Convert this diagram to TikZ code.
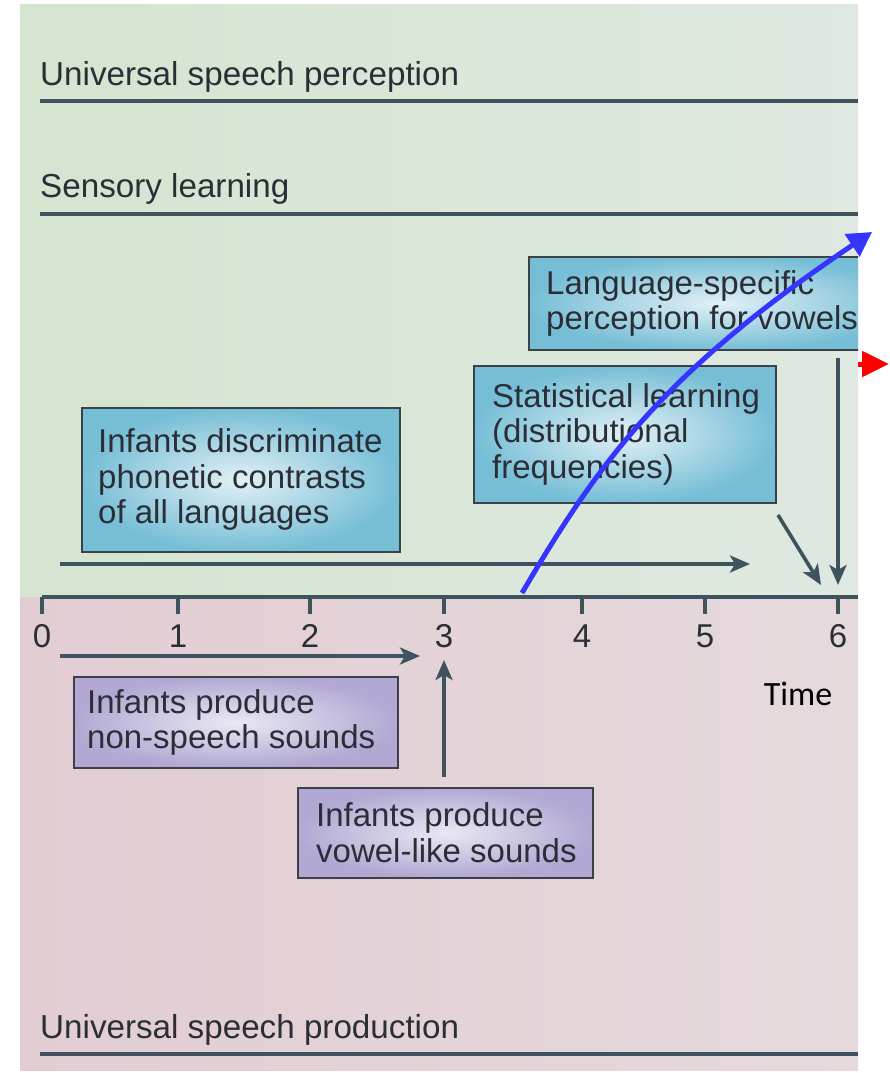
\documentclass[tikz,border=0pt]{standalone}
\usepackage{fontspec}
\setmainfont{Liberation Sans}
\newfontfamily\timefont{Carlito}
\usetikzlibrary{arrows.meta}
\definecolor{lineC}{HTML}{3F535E}
\definecolor{txtC}{HTML}{2B2E36}
\definecolor{greenL}{HTML}{D5E5D0}
\definecolor{greenR}{HTML}{DFE8E1}
\definecolor{pinkL}{HTML}{E2CDD3}
\definecolor{pinkR}{HTML}{E5D9DC}
\definecolor{blueOut}{HTML}{76BED6}
\definecolor{blueIn}{HTML}{E2F0F5}
\definecolor{purOut}{HTML}{B2A8D3}
\definecolor{purIn}{HTML}{EAE8F3}
\definecolor{boxLine}{HTML}{3A4248}
\definecolor{annBlue}{HTML}{3535FF}
\begin{document}
\begin{tikzpicture}[x=1pt,y=-1pt,
  heading/.style={font=\fontsize{33.2}{36}\selectfont, text=txtC, inner sep=0pt, anchor=base west},
  band/.style={line width=4pt, draw=lineC},
  boxtext/.style={font=\fontsize{33}{35.5}\selectfont, text=txtC, align=left, inner sep=0pt, anchor=west},
  bluebox/.style={draw=boxLine, line width=1.5pt, inner color=blueIn, outer color=blueOut, anchor=north west, inner sep=0pt},
  purbox/.style={draw=boxLine, line width=1.5pt, inner color=purIn, outer color=purOut, anchor=north west, inner sep=0pt},
  darrow/.style={line width=3.6pt, draw=lineC, -{Stealth[length=20pt,width=17pt,inset=5pt]}},
  ticklabel/.style={font=\fontsize{33}{36}\selectfont, text=txtC, inner sep=0pt, anchor=base},
  tickmark/.style={line width=3.6pt, draw=lineC}
]
\useasboundingbox (0,0) rectangle (889,1073);
% backgrounds
\shade[left color=greenL, right color=greenR] (20,5) rectangle (858,597);
\shade[left color=pinkL, right color=pinkR] (20,597) rectangle (858,1070);

% headings and bands
\node[heading] (hup) at (40,85) {Universal speech perception};
\coordinate (bup1) at (40,101); \coordinate (bup2) at (858,101);
\draw[band] (bup1) -- (bup2);
\node[heading] (hsl) at (40,197) {Sensory learning};
\coordinate (bsl1) at (40,214); \coordinate (bsl2) at (858,214);
\draw[band] (bsl1) -- (bsl2);
\node[heading] (hsp) at (40,1038) {Universal speech production};
\coordinate (bsp1) at (40,1054); \coordinate (bsp2) at (858,1054);
\draw[band] (bsp1) -- (bsp2);

% boxes
\node[bluebox, minimum width=318pt, minimum height=144pt] (b1) at (81,407) {};
\node[boxtext] (b1t) at ([xshift=17pt]b1.west) {Infants discriminate\\phonetic contrasts\\of all languages};

\node[bluebox, minimum width=302pt, minimum height=137pt] (b2) at (473,365) {};
\node[boxtext] (b2t) at ([xshift=19pt]b2.west) {Statistical learning\\(distributional\\frequencies)};

\begin{scope}
\clip (20,0) rectangle (858,1073);
\node[bluebox, minimum width=380pt, minimum height=93pt] (b3) at (528,256) {};
\node[boxtext] (b3t) at ([xshift=18pt]b3.west) {Language-specific\\perception for vowels};
\end{scope}

\node[purbox, minimum width=324pt, minimum height=91pt] (b4) at (73,676) {};
\node[boxtext] (b4t) at ([xshift=14pt]b4.west) {Infants produce\\non-speech sounds};

\node[purbox, minimum width=295pt, minimum height=90pt] (b5) at (297,787) {};
\node[boxtext] (b5t) at ([xshift=19pt]b5.west) {Infants produce\\vowel-like sounds};

% axis
\coordinate (ax0) at (42,597); \coordinate (ax1) at (858,597);
\draw[tickmark] (ax0) -- (ax1);
\foreach \x/\l in {42/0,178/1,310/2,444/3,582/4,705/5,838/6}{
  \coordinate (t\l) at (\x,597);
  \draw[tickmark] (t\l) -- ++(0,17);
  \node[ticklabel] (tl\l) at (\x,647) {\l};
}
\node[font=\timefont\fontsize{34}{36}\selectfont, text=black, inner sep=0pt] (time) at (798,694) {Time};

% dark arrows
\coordinate (a1s) at (60,564); \coordinate (a1e) at (750,564);
\draw[darrow] (a1s) -- (a1e);
\coordinate (a2s) at (778,515); \coordinate (a2e) at (821,585);
\draw[darrow] (a2s) -- (a2e);
\coordinate (a3s) at (838,358); \coordinate (a3e) at (838,585);
\draw[darrow] (a3s) -- (a3e);
\coordinate (a4s) at (60,656); \coordinate (a4e) at (420,656);
\draw[darrow] (a4s) -- (a4e);
\coordinate (a5s) at (444,777); \coordinate (a5e) at (444,660);
\draw[darrow] (a5s) -- (a5e);

% annotations
\coordinate (blS) at (522,593); \coordinate (blE) at (872,232);
\draw[line width=5pt, draw=annBlue, -{Triangle[length=24pt,width=26pt]}]
  (blS) .. controls (600,460) and (664,372) .. (blE);
\coordinate (rdS) at (858,364); \coordinate (rdE) at (889,364);
\draw[line width=5pt, draw=red, -{Triangle[length=27pt,width=25pt]}] (rdS) -- (rdE);
\end{tikzpicture}
\end{document}
